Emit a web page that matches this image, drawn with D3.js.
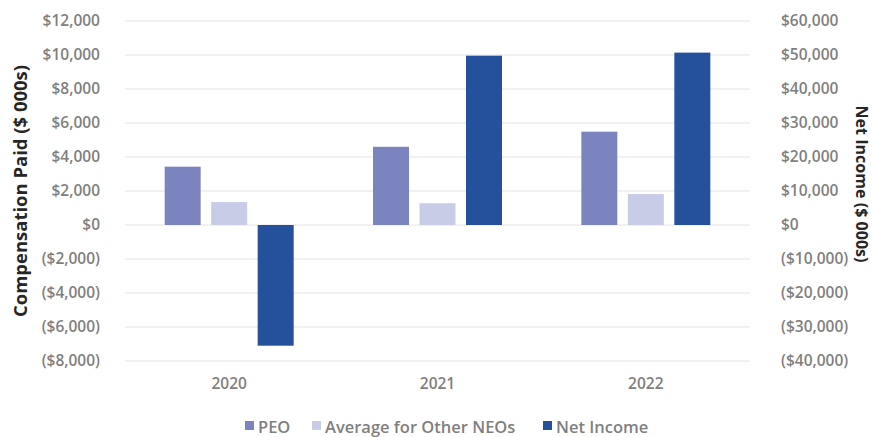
<!DOCTYPE html>
<html><head><meta charset="utf-8">
<script src="https://cdn.jsdelivr.net/npm/d3@7"></script>
<style>
body{margin:0;background:#fff;}
text{font-family:"Open Sans",sans-serif;}
</style></head>
<body>
<svg id="c" width="872" height="437"></svg>
<script>
const years = ["2020","2021","2022"];
const seriesNames = ["PEO","Average for Other NEOs","Net Income"];
const peo = [3430, 4600, 5490];
const avgNeo = [1350, 1280, 1820];
const netIncome = [-35500, 49800, 50700];
const leftTicks = [-8000,-6000,-4000,-2000,0,2000,4000,6000,8000,10000,12000];
const rightTicks = [-40000,-30000,-20000,-10000,0,10000,20000,30000,40000,50000,60000];
const colors = ["#7c84bf","#c9cce6","#24509c"];

const svg = d3.select("#c");
const plot = {left:125, right:750, top:21, bottom:361};

const yL = d3.scaleLinear().domain([-8000,12000]).range([plot.bottom, plot.top]);
const yR = d3.scaleLinear().domain([-40000,60000]).range([plot.bottom, plot.top]);
const x0 = d3.scaleBand().domain(years).range([plot.left, plot.right]).padding(0);
const inner = 129, outer = (x0.bandwidth()-inner)/2;
const x1 = d3.scaleBand().domain(seriesNames).range([outer, outer+inner]).paddingInner(0.226).paddingOuter(0);

const fmt = v => v < 0 ? "($" + d3.format(",")(-v) + ")" : "$" + d3.format(",")(v);

// gridlines
svg.append("g").selectAll("line").data(leftTicks).join("line")
  .attr("x1", plot.left).attr("x2", plot.right)
  .attr("y1", d => yL(d)).attr("y2", d => yL(d))
  .attr("stroke", "#e3e3e3").attr("stroke-width", 1.2);

// left axis
const gL = svg.append("g").attr("transform", `translate(${plot.left},0)`)
  .call(d3.axisLeft(yL).tickValues(leftTicks).tickFormat(fmt).tickSize(0).tickPadding(25));
gL.select(".domain").remove();
gL.selectAll("text").attr("fill","#7f7f7f").style("font-size","15.5px").style("font-weight","600")
  .style("font-family","'Open Sans',sans-serif");

// right axis
const gR = svg.append("g").attr("transform", `translate(${plot.right},0)`)
  .call(d3.axisRight(yR).tickValues(rightTicks).tickFormat(fmt).tickSize(0).tickPadding(31));
gR.select(".domain").remove();
gR.selectAll("text").attr("fill","#7f7f7f").style("font-size","15.5px").style("font-weight","600")
  .style("font-family","'Open Sans',sans-serif");

// bars
const rows = years.map((y,i) => ({year:y, vals:[
  {s:seriesNames[0], v:peo[i], scale:yL, c:colors[0]},
  {s:seriesNames[1], v:avgNeo[i], scale:yL, c:colors[1]},
  {s:seriesNames[2], v:netIncome[i], scale:yR, c:colors[2]}
]}));
const grp = svg.append("g").selectAll("g").data(rows).join("g")
  .attr("transform", d => `translate(${x0(d.year)},0)`);
grp.selectAll("rect").data(d => d.vals).join("rect")
  .attr("x", d => x1(d.s)).attr("width", x1.bandwidth())
  .attr("y", d => d.scale(Math.max(0,d.v)))
  .attr("height", d => Math.abs(d.scale(d.v) - d.scale(0)))
  .attr("fill", d => d.c);

// x axis labels
const gX = svg.append("g").attr("transform", `translate(0,${plot.bottom})`)
  .call(d3.axisBottom(x0).tickSize(0).tickPadding(17));
gX.select(".domain").remove();
gX.selectAll("text").attr("fill","#7f7f7f").style("font-size","15.5px").style("font-weight","600")
  .style("font-family","'Open Sans',sans-serif");

// axis titles
svg.append("text").attr("transform","translate(20,191) rotate(-90)")
  .attr("text-anchor","middle").attr("dominant-baseline","central")
  .attr("textLength",252).attr("lengthAdjust","spacingAndGlyphs")
  .style("font-size","17px").style("font-weight","700").attr("fill","#262626")
  .text("Compensation Paid ($ 000s)");
svg.append("text").attr("transform","translate(862,184) rotate(90)")
  .attr("text-anchor","middle").attr("dominant-baseline","central")
  .attr("textLength",157).attr("lengthAdjust","spacingAndGlyphs")
  .style("font-size","16.5px").style("font-weight","700").attr("fill","#262626")
  .text("Net Income ($ 000s)");

// legend
const legX = [245, 312, 543];
const leg = svg.append("g").selectAll("g").data(seriesNames).join("g")
  .attr("transform", (d,i) => `translate(${legX[i]},421)`);
leg.append("rect").attr("width",9).attr("height",9).attr("y",0).attr("fill",(d,i)=>colors[i]);
leg.append("text").attr("x",13).attr("y",5).attr("dominant-baseline","central")
  .attr("fill","#7f7f7f").style("font-size","16.5px").style("font-weight","600").text(d=>d);
</script>
</body></html>
